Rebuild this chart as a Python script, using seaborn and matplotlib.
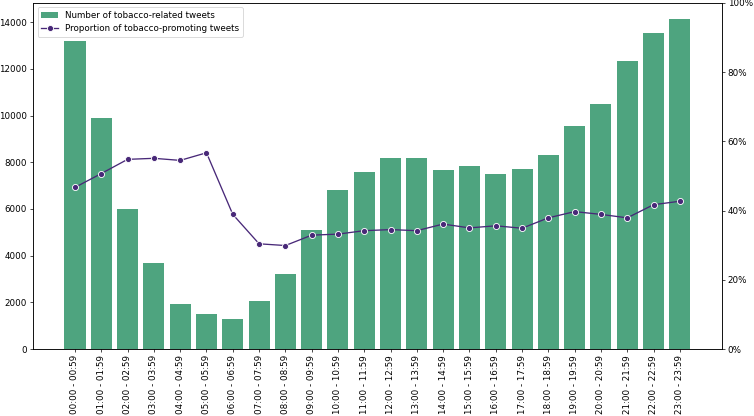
import numpy as np
import seaborn as sns
import matplotlib
matplotlib.use("Agg")
import matplotlib.pyplot as plt
from matplotlib.ticker import PercentFormatter

# hourly buckets
hours = [f"{h:02d}:00 - {h:02d}:59" for h in range(24)]

# number of tobacco-related tweets per hour
n_tweets = [13190, 9910, 6010, 3670, 1945, 1490, 1300, 2055, 3230, 5080,
            6825, 7570, 8180, 8180, 7685, 7825, 7510, 7725, 8325, 9535,
            10510, 12320, 13520, 14120]

# proportion of tobacco-promoting tweets
prop_promo = [0.467, 0.507, 0.548, 0.551, 0.545, 0.567, 0.389, 0.304, 0.299, 0.329,
              0.332, 0.342, 0.345, 0.342, 0.361, 0.350, 0.356, 0.349, 0.379, 0.397,
              0.389, 0.379, 0.417, 0.427]

bar_color = "#4ea47f"
line_color = "#482878"

fig, ax = plt.subplots(figsize=(12, 6.62), dpi=62.84)
fig.subplots_adjust(left=0.044, right=0.957, top=0.993, bottom=0.161)

sns.barplot(x=hours, y=n_tweets, color=bar_color, saturation=1, width=0.8,
            ax=ax, label="Number of tobacco-related tweets")

ax2 = ax.twinx()
sns.lineplot(x=np.arange(len(hours)), y=prop_promo, color=line_color, marker="o",
             markersize=7, markeredgecolor="white", markeredgewidth=1,
             ax=ax2, label="Proportion of tobacco-promoting tweets")

ax.set_xlim(-1.59, len(hours) - 1 + 1.59)
ax.set_ylim(0, max(n_tweets) * 1.05)
ax.set_yticks(range(0, 14001, 2000))
ax.set_xticks(range(len(hours)))
ax.set_xticklabels(hours, rotation=90)
ax.set_xlabel("")
ax.set_ylabel("")

ax2.set_ylim(0, 1)
ax2.set_yticks(np.arange(0, 1.01, 0.2))
ax2.yaxis.set_major_formatter(PercentFormatter(1.0, decimals=0))
ax2.set_ylabel("")

# one legend for both axes
if ax.get_legend():
    ax.get_legend().remove()
if ax2.get_legend():
    ax2.get_legend().remove()
h1, l1 = ax.get_legend_handles_labels()
h2, l2 = ax2.get_legend_handles_labels()
ax2.legend(h1 + h2, l1 + l2, loc="upper left")

fig.savefig("out.png")
